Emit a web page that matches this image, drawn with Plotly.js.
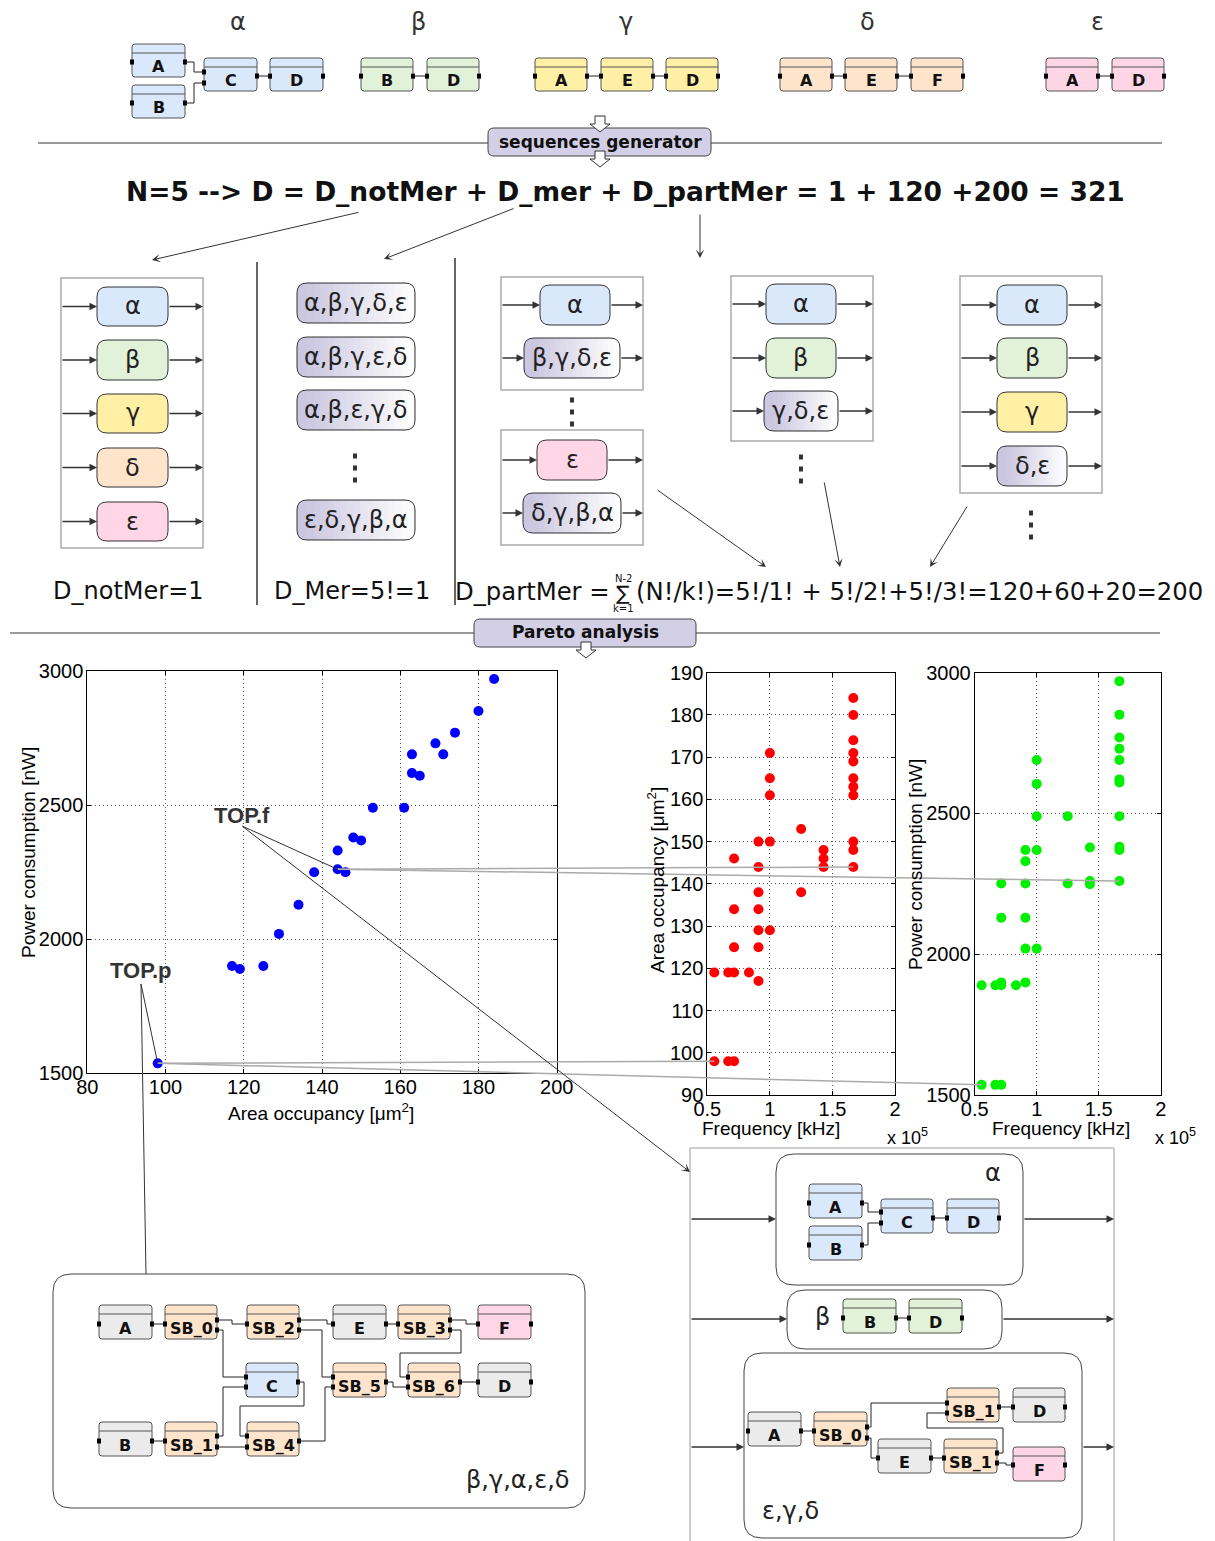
<!DOCTYPE html>
<html><head><meta charset="utf-8">
<script src="https://cdn.plot.ly/plotly-3.0.1.min.js"></script>
<style>html,body{margin:0;padding:0;background:#fff}</style>
</head><body>
<div id="chart" style="width:1215px;height:1541px"></div>
<script>
// ---------------- DATA ----------------
const areaBlue  = [184,180,174,169,171,163,163,165,153,161,148,150,144,144,146,138,134,129,117,119,125,98];
const powerBlue = [2970,2851,2770,2730,2689,2689,2619,2609,2490,2490,2379,2368,2330,2260,2249,2249,2128,2019,1899,1888,1899,1536];

const freqRed = [1.667,1.667,1.667,1.667,1.667,1.667,1.667,1.667,1.667,1.667,1.667,
                 1.429,1.429,1.429, 1.25,1.25, 1.0,1.0,1.0,1.0,1.0,
                 0.909,0.909,0.909,0.909,0.909,0.909,0.909, 0.833,
                 0.714,0.714,0.714,0.714,0.714, 0.667,0.667, 0.556,0.556];
const areaRed = [184,180,174,171,169,165,163,161,150,148,144,
                 148,146,144, 153,138, 171,165,161,150,129,
                 150,144,138,134,129,125,117, 119,
                 146,134,125,119,98, 119,98, 119,98];

const freqGreen = [1.667,1.667,1.667,1.667,1.667,1.667,1.667,1.667,1.667,1.667,1.667,
                   1.429,1.429,1.429, 1.25,1.25, 1.0,1.0,1.0,1.0,1.0,
                   0.909,0.909,0.909,0.909,0.909,0.909, 0.833,
                   0.714,0.714,0.714,0.714,0.714, 0.667,0.667, 0.556,0.556];
const powerGreen = [2970,2851,2770,2730,2690,2621,2610,2490,2382,2370,2260,
                    2379,2260,2249, 2490,2251, 2690,2605,2490,2370,2020,
                    2370,2330,2251,2130,2020,1900, 1890,
                    2251,2130,1900,1890,1536, 1890,1536, 1890,1536];

const topF = {area:144, power:2260, freq:1.667};
const topP = {area:98,  power:1536, freq:0.556};

const blueTicksX = [80,100,120,140,160,180,200];
const blueTicksY = [1500,2000,2500,3000];
const redTicksY  = [90,100,110,120,130,140,150,160,170,180,190];
const freqTicks  = [0.5,1,1.5,2];
const freqTickText = ['0.5','1','1.5','2'];

// ---------------- HELPERS ----------------
const W=1215, H=1541;
const X = p => p/W, Y = p => 1 - p/H;
const shapes=[], ann=[];
const COL = {blue:'#dae8fc', green:'#e2f2d8', yellow:'#fff0a6', peach:'#ffe4cc', pink:'#ffd6e6', gray:'#ebebeb', lav:'#d2cfe6'};
const DV = 'DejaVu Sans', LS = 'Liberation Sans, Arial, sans-serif';

function P(x,y){return X(x)+','+Y(y);}
function line(x0,y0,x1,y1,color,w){shapes.push({type:'line',xref:'paper',yref:'paper',x0:X(x0),y0:Y(y0),x1:X(x1),y1:Y(y1),line:{color:color||'#333',width:w||1},layer:'above'});}
function poly(pts,color,w){let d='M'+P(pts[0][0],pts[0][1]);for(let i=1;i<pts.length;i++)d+='L'+P(pts[i][0],pts[i][1]);
  shapes.push({type:'path',xref:'paper',yref:'paper',path:d,line:{color:color||'#222',width:w||1},layer:'above'});}
function rect(x0,y0,x1,y1,fill,stroke,w){shapes.push({type:'rect',xref:'paper',yref:'paper',x0:X(x0),y0:Y(y1),x1:X(x1),y1:Y(y0),fillcolor:fill||'rgba(0,0,0,0)',line:{color:stroke||'rgba(0,0,0,0)',width:w===undefined?1:w},layer:'above'});}
function rrect(x0,y0,x1,y1,r,fill,stroke,w){
  const d='M'+P(x0+r,y0)+'L'+P(x1-r,y0)+'Q'+P(x1,y0)+' '+P(x1,y0+r)+'L'+P(x1,y1-r)+'Q'+P(x1,y1)+' '+P(x1-r,y1)+
    'L'+P(x0+r,y1)+'Q'+P(x0,y1)+' '+P(x0,y1-r)+'L'+P(x0,y0+r)+'Q'+P(x0,y0)+' '+P(x0+r,y0)+'Z';
  shapes.push({type:'path',xref:'paper',yref:'paper',path:d,fillcolor:fill||'rgba(0,0,0,0)',line:{color:stroke||'rgba(0,0,0,0)',width:w===undefined?1:w},layer:'above'});}
function text(x,y,s,size,family,color,extra){ann.push(Object.assign({x:X(x),y:Y(y),xref:'paper',yref:'paper',text:s,showarrow:false,xanchor:'center',yanchor:'middle',font:{family:family||DV,size:size,color:color||'#222'}},extra||{}));}
function arrow(x0,y0,x1,y1,o){o=o||{};ann.push({x:X(x1),y:Y(y1),xref:'paper',yref:'paper',ax:x0-x1,ay:y0-y1,axref:'pixel',ayref:'pixel',text:'',showarrow:true,
  arrowhead:o.head===undefined?2:o.head,arrowsize:o.size||1,arrowwidth:o.w||1.5,arrowcolor:o.color||'#333',standoff:0,startstandoff:0});}
function hollowDown(cx,yt,yb){const s=5,h=10,hh=8;
  const pts=[[cx-s,yt],[cx+s,yt],[cx+s,yb-hh],[cx+h,yb-hh],[cx,yb],[cx-h,yb-hh],[cx-s,yb-hh]];
  let d='M'+P(pts[0][0],pts[0][1]);for(let i=1;i<pts.length;i++)d+='L'+P(pts[i][0],pts[i][1]);d+='Z';
  shapes.push({type:'path',xref:'paper',yref:'paper',path:d,fillcolor:'#fff',line:{color:'#333',width:1},layer:'above'});}
// functional block: rounded rect + header stripe + label + ports
function block(x0,y0,x1,y1,fill,label,fs,ports){
  const h=y1-y0;
  rrect(x0,y0,x1,y1,3,fill,'#555',1);
  line(x0,y0+9,x1,y0+9,'#555',1);
  text((x0+x1)/2,y0+0.68*h,'<b>'+label+'</b>',fs||16,DV,'#111');
  const yp=y0+0.55*h;
  (ports||[['l',yp],['r',yp]]).forEach(p=>{
    const xx=p[0]==='l'?x0:x1; rect(xx-2,p[1]-2.5,xx+2,p[1]+2.5,'#000','#000',0);});
}
function greekBox(x0,y0,x1,y1,fill,label){rrect(x0,y0,x1,y1,10,fill,'#333',1);text((x0+x1)/2,(y0+y1)/2,label,24,DV,'#222');}
function gradBox(x0,y0,x1,y1,label){
  const r=10; rrect(x0,y0,x1,y1,r,'#cbc7e0','rgba(0,0,0,0)',0);
  const n=16, a=[0xcb,0xc7,0xe0];
  for(let i=0;i<n;i++){const t=(i+0.5)/n;const c=a.map(v=>Math.round(v+(255-v)*t));
    const xa=x0+r+(x1-1-x0-r)*i/n, xb=x0+r+(x1-1-x0-r)*(i+1)/n+0.6;
    rect(xa,y0+0.6,xb,y1-0.6,'rgb('+c.join(',')+')','rgba(0,0,0,0)',0);}
  rrect(x0,y0,x1,y1,r,'rgba(0,0,0,0)','#333',1);
  text((x0+x1)/2,(y0+y1)/2,label,24,DV,'#222');}
function vdots(x,y){for(let i=0;i<3;i++)rect(x-2,y+i*12-2.5,x+2,y+i*12+2.5,'#333','#333',0);}
function panelRow(px0,px1,bx0,bx1,yc){arrow(px0,yc,bx0,yc);arrow(bx1,yc,px1,yc);}

// ---------------- TOP ROW ----------------
[['α',238],['β',418],['γ',626],['δ',868],['ε',1097]].forEach(g=>text(g[1],22,g[0],24,DV,'#333'));
block(132,44,185,77,COL.blue,'A',16,[['l',62],['r',62]]);
block(132,85,185,118,COL.blue,'B',16,[['l',103],['r',103]]);
block(204,58,257,91,COL.blue,'C',16,[['l',72],['l',83],['r',76]]);
block(270,58,323,91,COL.blue,'D',16);
poly([[185,62],[194,62],[194,72],[204,72]]);poly([[185,103],[194,103],[194,83],[204,83]]);poly([[257,76],[270,76]]);
function chain(list,fill){list.forEach((b,i)=>{block(b[0],58,b[0]+52,91,fill,b[1],16);if(i>0)poly([[list[i-1][0]+52,76],[b[0],76]]);});}
chain([[361,'B'],[427,'D']],COL.green);
chain([[535,'A'],[601,'E'],[666,'D']],COL.yellow);
chain([[780,'A'],[845,'E'],[911,'F']],COL.peach);
chain([[1046,'A'],[1112,'D']],COL.pink);

// sequences generator
line(38,143,488,143,'#777',1.5); line(711,143,1162,143,'#777',1.5);
rrect(488,128,711,156,6,COL.lav,'#444',1);
text(600,142,'<b>sequences generator</b>',17,DV,'#111');
hollowDown(600,116,132); hollowDown(600,151,167);

text(625,191,'<b>N=5 --> D = D_notMer + D_mer + D_partMer = 1 + 120 +200 = 321</b>',26.5,DV,'#111');
arrow(360,212,152,260,{head:3,size:1.4,w:1});
arrow(515,208,384,259,{head:3,size:1.4,w:1});
arrow(700,213,700,258,{head:3,size:1.4,w:1});

// ---------------- MIDDLE PANELS ----------------
rect(61,278,203,548,'rgba(0,0,0,0)','#aaa',1.5);
[['α',287,326,COL.blue],['β',340,380,COL.green],['γ',394,433,COL.yellow],['δ',448,487,COL.peach],['ε',502,541,COL.pink]].forEach(r=>{
  greekBox(97,r[1],168,r[2],r[3],r[0]); panelRow(61,203,97,168,(r[1]+r[2])/2);});
text(128,591,'D_notMer=1',24,DV,'#111');
line(257,262,257,605,'#333',1.5); line(455,258,455,605,'#333',1.5);

gradBox(297,283,415,323,'α,β,γ,δ,ε');
gradBox(297,337,415,377,'α,β,γ,ε,δ');
gradBox(297,390,415,430,'α,β,ε,γ,δ');
vdots(355,456);
gradBox(297,500,415,540,'ε,δ,γ,β,α');
text(352,591,'D_Mer=5!=1',24,DV,'#111');

rect(501,277,643,390,'rgba(0,0,0,0)','#aaa',1.5);
greekBox(540,285,610,325,COL.blue,'α'); panelRow(501,643,540,610,305);
gradBox(524,338,620,378,'β,γ,δ,ε'); panelRow(501,643,524,620,358);
vdots(572,400);
rect(501,430,643,545,'rgba(0,0,0,0)','#aaa',1.5);
greekBox(537,440,607,480,COL.pink,'ε'); panelRow(501,643,537,607,460);
gradBox(523,493,621,533,'δ,γ,β,α'); panelRow(501,643,523,621,513);

rect(731,276,873,441,'rgba(0,0,0,0)','#aaa',1.5);
greekBox(766,284,836,324,COL.blue,'α'); panelRow(731,873,766,836,304);
greekBox(766,338,836,378,COL.green,'β'); panelRow(731,873,766,836,358);
gradBox(764,391,838,431,'γ,δ,ε'); panelRow(731,873,764,838,411);
vdots(801,457);

rect(960,276,1102,493,'rgba(0,0,0,0)','#aaa',1.5);
greekBox(997,285,1067,325,COL.blue,'α'); panelRow(960,1102,997,1067,305);
greekBox(997,338,1067,378,COL.green,'β'); panelRow(960,1102,997,1067,358);
greekBox(997,392,1067,432,COL.yellow,'γ'); panelRow(960,1102,997,1067,412);
gradBox(997,446,1067,486,'δ,ε'); panelRow(960,1102,997,1067,466);
vdots(1031,513);

arrow(656,489,766,567,{head:3,size:1.4,w:1});
arrow(824,481,840,567,{head:3,size:1.4,w:1});
arrow(968,505,930,567,{head:3,size:1.4,w:1});

text(612,591,'D_partMer =',24.3,DV,'#111',{xanchor:'right'});
text(623,593,'∑',20,DV,'#111');
text(623,578,'N-2',10,DV,'#111');
text(623,608,'k=1',10,DV,'#111');
text(634,591,'(N!/k!)=5!/1! + 5!/2!+5!/3!=120+60+20=200',24.3,DV,'#111',{xanchor:'left'});

// Pareto analysis
line(10,633,474,633,'#777',1.5); line(696,633,1160,633,'#777',1.5);
rrect(474,619,696,647,6,COL.lav,'#444',1);
text(585,632,'<b>Pareto analysis</b>',17,DV,'#111');
hollowDown(586,642,658);

// ---------------- PLOTS ----------------
const G1={px0:87.3,px1:556.7,py0:671,py1:1073,xr:[80,200],yr:[1500,3000]};
const G2={px0:707.3,px1:895,py0:672.7,py1:1095,xr:[0.5,2],yr:[90,190]};
const G3={px0:974.7,px1:1160.7,py0:672.7,py1:1095,xr:[0.5,2],yr:[1500,3000]};
const dx=(G,v)=>G.px0+(v-G.xr[0])/(G.xr[1]-G.xr[0])*(G.px1-G.px0);
const dy=(G,v)=>G.py1-(v-G.yr[0])/(G.yr[1]-G.yr[0])*(G.py1-G.py0);

function ax(G,which,tv,tt){
  const base={showline:true,mirror:'ticks',linecolor:'#000',linewidth:1,ticks:'inside',ticklen:4,tickcolor:'#000',
    showgrid:true,gridcolor:'#555',griddash:'1px,3px',gridwidth:1,zeroline:false,fixedrange:true,
    tickfont:{family:LS,size:20,color:'#000'},tickmode:'array',tickvals:tv,ticktext:tt||tv.map(String)};
  if(which==='x') return Object.assign(base,{domain:[X(G.px0),X(G.px1)],range:G.xr,ticklabelstandoff:-4});
  return Object.assign(base,{domain:[Y(G.py1),Y(G.py0)],range:G.yr,ticklabelstandoff:-1});
}

const traces=[
  {type:'scatter',mode:'markers',x:areaBlue,y:powerBlue,xaxis:'x',yaxis:'y',marker:{color:'#0000ff',size:10},hoverinfo:'none'},
  {type:'scatter',mode:'markers',x:freqRed,y:areaRed,xaxis:'x2',yaxis:'y2',marker:{color:'#ff0000',size:10},hoverinfo:'none'},
  {type:'scatter',mode:'markers',x:freqGreen,y:powerGreen,xaxis:'x3',yaxis:'y3',marker:{color:'#00f000',size:10},hoverinfo:'none'}
];

// axis titles
text(28,853,'Power consumption [nW]',19,LS,'#000',{textangle:-90});
text(321,1112,'Area occupancy [μm<sup>2</sup>]',19,LS,'#000');
text(656,880,'Area occupancy [μm<sup>2</sup>]',19,LS,'#000',{textangle:-90});
text(771,1128,'Frequency [kHz]',19,LS,'#000');
text(907,1136,'x 10<sup>5</sup>',18,LS,'#000');
text(915,865,'Power consumption [nW]',19,LS,'#000',{textangle:-90});
text(1061,1128,'Frequency [kHz]',19,LS,'#000');
text(1175,1136,'x 10<sup>5</sup>',18,LS,'#000');

// Pareto correspondences
const fB=[dx(G1,topF.area),dy(G1,topF.power)], fR=[dx(G2,topF.freq),dy(G2,topF.area)], fG=[dx(G3,topF.freq),dy(G3,topF.power)];
const pB=[dx(G1,topP.area),dy(G1,topP.power)], pR=[dx(G2,topP.freq),dy(G2,topP.area)], pG=[dx(G3,topP.freq),dy(G3,topP.power)];
line(fB[0],fB[1],fR[0],fR[1],'#aaa',1.5); line(fB[0],fB[1],fG[0],fG[1],'#aaa',1.5);
line(pB[0],pB[1],pR[0],pR[1],'#aaa',1.5); line(pB[0],pB[1],pG[0],pG[1],'#aaa',1.5);

text(242,815,'<b>TOP.f</b>',22,LS,'#333');
text(141,970,'<b>TOP.p</b>',22,LS,'#333');
line(242,826,fB[0],fB[1],'#333',1);
arrow(242,826,690,1172,{head:3,size:1.4,w:1});
line(141,984,pB[0],pB[1],'#333',1);
line(141,984,146,1274,'#333',1);

// ---------------- BOTTOM LEFT ----------------
rrect(53,1274,585,1508,18,'rgba(0,0,0,0)','#444',1);
block(99,1305,152,1339,COL.gray,'A',16,[['l',1324],['r',1324]]);
block(165,1305,217,1339,COL.peach,'SB_0',16,[['l',1324],['r',1320],['r',1330]]);
block(247,1305,299,1339,COL.peach,'SB_2',16,[['l',1324],['r',1320],['r',1330]]);
block(333,1305,386,1339,COL.gray,'E',16,[['l',1324],['r',1324]]);
block(398,1305,450,1339,COL.peach,'SB_3',16,[['l',1324],['r',1320],['r',1330]]);
block(478,1305,531,1339,COL.pink,'F',16,[['l',1324],['r',1324]]);
block(246,1363,298,1397,COL.blue,'C',16,[['l',1377],['l',1387],['r',1382]]);
block(333,1363,386,1397,COL.peach,'SB_5',16,[['l',1377],['l',1387],['r',1382]]);
block(408,1363,460,1397,COL.peach,'SB_6',16,[['l',1377],['l',1387],['r',1382]]);
block(478,1363,531,1397,COL.gray,'D',16,[['l',1382],['r',1382]]);
block(99,1422,152,1456,COL.gray,'B',16,[['l',1441],['r',1441]]);
block(165,1422,217,1456,COL.peach,'SB_1',16,[['l',1441],['r',1436],['r',1447]]);
block(247,1422,299,1456,COL.peach,'SB_4',16,[['l',1436],['l',1447],['r',1441]]);
poly([[152,1324],[165,1324]]);
poly([[217,1320],[232,1320],[232,1324],[247,1324]]);
poly([[217,1330],[223,1330],[223,1377],[246,1377]]);
poly([[217,1436],[223,1436],[223,1387],[246,1387]]);
poly([[217,1447],[247,1447]]);
poly([[152,1441],[165,1441]]);
poly([[298,1382],[304,1382],[304,1406],[240,1406],[240,1436],[247,1436]]);
poly([[299,1441],[325,1441],[325,1387],[333,1387]]);
poly([[299,1330],[322,1330],[322,1377],[333,1377]]);
poly([[299,1320],[327,1320],[327,1324],[333,1324]]);
poly([[386,1324],[398,1324]]);
poly([[450,1320],[466,1320],[466,1324],[478,1324]]);
poly([[450,1330],[461,1330],[461,1353],[400,1353],[400,1377],[408,1377]]);
poly([[386,1382],[393,1382],[393,1387],[408,1387]]);
poly([[460,1382],[478,1382]]);
text(518,1480,'β,γ,α,ε,δ',24,DV,'#222');

// ---------------- BOTTOM RIGHT ----------------
line(690,1148,1114,1148,'#bbb',1.5); line(690,1148,690,1541,'#bbb',1.5); line(1114,1148,1114,1541,'#bbb',1.5);
rrect(776,1154,1023,1285,18,'rgba(0,0,0,0)','#444',1);
text(993,1173,'α',24,DV,'#222');
block(809,1184,862,1218,COL.blue,'A',16,[['l',1203],['r',1203]]);
block(809,1226,862,1260,COL.blue,'B',16,[['l',1245],['r',1245]]);
block(881,1199,933,1233,COL.blue,'C',16,[['l',1212],['l',1223],['r',1218]]);
block(947,1199,999,1233,COL.blue,'D',16,[['l',1218],['r',1218]]);
poly([[862,1203],[868,1203],[868,1212],[881,1212]]);
poly([[862,1245],[868,1245],[868,1223],[881,1223]]);
poly([[933,1218],[947,1218]]);
arrow(690,1219,776,1219); arrow(1023,1219,1114,1219);

rrect(787,1290,1002,1349,18,'rgba(0,0,0,0)','#444',1);
text(822,1317,'β',24,DV,'#222');
block(843,1299,896,1333,COL.green,'B',16,[['l',1318],['r',1318]]);
block(909,1299,962,1333,COL.green,'D',16,[['l',1318],['r',1318]]);
poly([[896,1318],[909,1318]]);
arrow(690,1319,787,1319); arrow(1002,1319,1114,1319);

rrect(744,1353,1082,1538,18,'rgba(0,0,0,0)','#444',1);
text(790,1511,'ε,γ,δ',24,DV,'#222');
block(748,1412,801,1446,COL.gray,'A',16,[['l',1431],['r',1431]]);
block(814,1412,867,1446,COL.peach,'SB_0',16,[['l',1431],['r',1427],['r',1438]]);
block(878,1439,931,1473,COL.gray,'E',16,[['l',1458],['r',1458]]);
block(947,1388,999,1422,COL.peach,'SB_1',16,[['l',1403],['l',1413],['r',1407]]);
block(1013,1388,1065,1422,COL.gray,'D',16,[['l',1407],['r',1407]]);
block(944,1439,997,1473,COL.peach,'SB_1',16,[['l',1458],['r',1453],['r',1463]]);
block(1013,1447,1065,1481,COL.pink,'F',16,[['l',1465],['r',1465]]);
poly([[801,1431],[814,1431]]);
poly([[867,1427],[871,1427],[871,1403],[947,1403]]);
poly([[867,1438],[871,1438],[871,1458],[878,1458]]);
poly([[931,1458],[944,1458]]);
poly([[997,1453],[1003,1453],[1003,1428],[927,1428],[927,1413],[947,1413]]);
poly([[997,1463],[1006,1463],[1006,1465],[1013,1465]]);
poly([[999,1407],[1013,1407]]);
arrow(690,1447,744,1447); arrow(1082,1447,1114,1447);

// ---------------- LAYOUT ----------------
const layout={
  width:W,height:H,margin:{l:0,r:0,t:0,b:0},paper_bgcolor:'#fff',plot_bgcolor:'rgba(0,0,0,0)',showlegend:false,
  xaxis:Object.assign(ax(G1,'x',blueTicksX),{anchor:'y'}),
  yaxis:Object.assign(ax(G1,'y',blueTicksY),{anchor:'x'}),
  xaxis2:Object.assign(ax(G2,'x',freqTicks,freqTickText),{anchor:'y2'}),
  yaxis2:Object.assign(ax(G2,'y',redTicksY),{anchor:'x2'}),
  xaxis3:Object.assign(ax(G3,'x',freqTicks,freqTickText),{anchor:'y3'}),
  yaxis3:Object.assign(ax(G3,'y',blueTicksY),{anchor:'x3'}),
  shapes:shapes,annotations:ann
};
Plotly.newPlot('chart',traces,layout,{displayModeBar:false,staticPlot:true});
</script>
</body></html>
